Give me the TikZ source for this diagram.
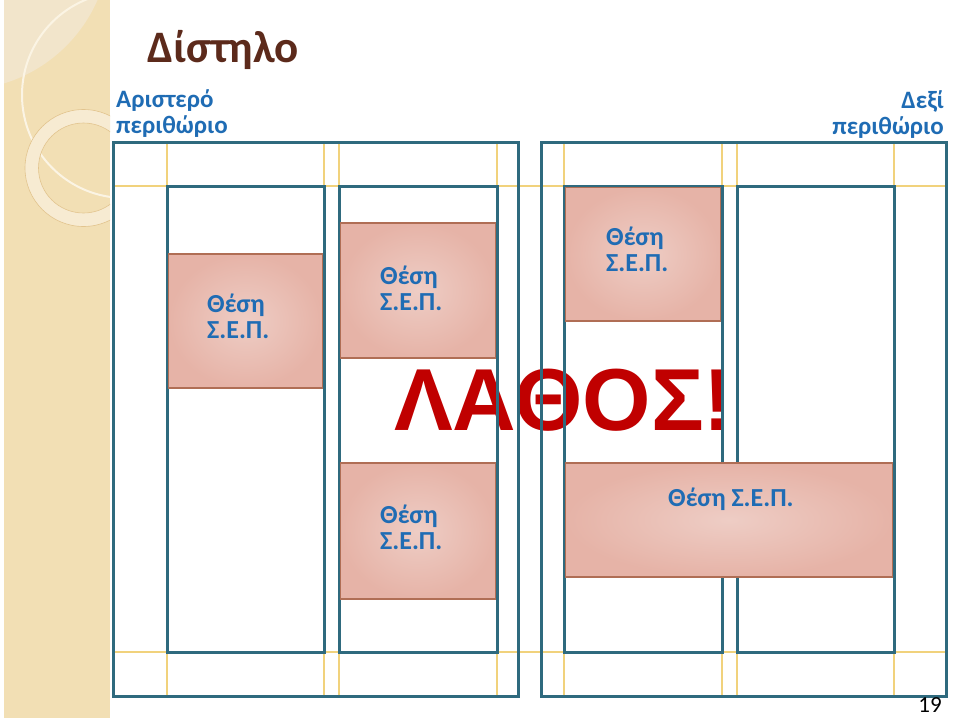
\documentclass[tikz,border=0pt]{standalone}
\usepackage{fontspec}
\setmainfont{Carlito}
\newfontfamily\alertfont{Liberation Sans}
\usetikzlibrary{fit,positioning}
\definecolor{dsband}{HTML}{F2DFB4}
\definecolor{dsbandlight}{HTML}{F2E5CB}
\definecolor{dsring}{HTML}{F7EBD2}
\definecolor{dsringline}{HTML}{E2C48E}
\definecolor{dsarc}{HTML}{FBF4E4}
\definecolor{dsteal}{HTML}{2F6A7E}
\definecolor{dsgold}{HTML}{F1D27C}
\definecolor{dspinkin}{HTML}{EECDC5}
\definecolor{dspinkout}{HTML}{E6B3A7}
\definecolor{dsedge}{HTML}{B06E55}
\definecolor{dsblue}{HTML}{1F6CB4}
\definecolor{dsbrown}{HTML}{5C2A1B}
\definecolor{dsred}{HTML}{C00000}

\begin{document}
\begin{tikzpicture}[
    x=1pt, y=-1pt,
    frame/.style={
        draw=dsteal,
        line width=3pt
    },
    guide/.style={
        draw=dsgold,
        line width=1.4pt
    },
    sepbox/.style={
        rectangle,
        inner sep=0pt,
        draw=dsedge,
        line width=1.1pt,
        inner color=dspinkin,
        outer color=dspinkout
    },
    septext/.style={
        align=left,
        inner sep=0pt,
        font=\bfseries\fontsize{26}{26}\selectfont,
        text=dsblue
    },
    marginlabel/.style={
        inner sep=0pt,
        font=\bfseries\fontsize{25}{25.5}\selectfont,
        text=dsblue
    }
]

\fill[white] (0,0) rectangle (959,718);
\useasboundingbox (0,0) rectangle (959,718);

\begin{scope}
    \clip (4,0) rectangle (110,718);
    \fill[dsband] (4,0) rectangle (110,718);
    \fill[dsbandlight] (-40,-60) circle (150pt);
    \draw[dsarc, line width=2pt] (125,95) circle (103pt);
    \fill[dsring, even odd rule] (83.5,168) circle (58.5pt) (83.5,168) circle (45pt);
    \draw[dsringline, line width=0.6pt] (83.5,168) circle (58.5pt) (83.5,168) circle (45pt);
\end{scope}

\node[anchor=base west, inner sep=0pt, text=dsbrown,
      font=\bfseries\fontsize{45}{50}\selectfont] (title) at (147,62) {Δίστηλο};

\node[marginlabel, align=left, anchor=base west] (lmargin) at (116,133) {Αριστερό\\περιθώριο};
\node[marginlabel, align=right, anchor=base east] (rmargin) at (944,134) {Δεξί\\περιθώριο};

\node[anchor=base west, inner sep=0pt, text=dsred,
      font=\alertfont\bfseries\fontsize{88}{95}\selectfont] (wrong) at (394,430) {ΛΑΘΟΣ!};

\draw[guide] (113,186) -- (946,186);
\draw[guide] (113,652) -- (946,652);
\foreach \gx in {167,324,339,497,564,722,737,894}
    \draw[guide] (\gx,142) -- (\gx,696);

\foreach \xa/\ya/\xb/\yb in {113/142/518/696,167/186/324/652,339/186/497/652,
                             541/142/946/696,564/186/722/652,737/186/894/652}
    \draw[frame] (\xa,\ya) rectangle (\xb,\yb);

\node[sepbox, fit={(168.5,254) (322.5,388)}] (boxa) {};
\node[sepbox, fit={(340.5,223) (495.5,358)}] (boxb) {};
\node[sepbox, fit={(565.5,187.5) (720.5,321)}] (boxc) {};
\node[sepbox, fit={(340.5,463) (495.5,599)}] (boxd) {};
\node[sepbox, fit={(565.5,463) (892.5,577)}] (boxe) {};

\node[septext, anchor=base west] (texta) at (207,338) {Θέση\\Σ.Ε.Π.};
\node[septext, anchor=base west] (textb) at (380,310) {Θέση\\Σ.Ε.Π.};
\node[septext, anchor=base west] (textc) at (606,271) {Θέση\\Σ.Ε.Π.};
\node[septext, anchor=base west] (textd) at (380,549) {Θέση\\Σ.Ε.Π.};
\node[septext, anchor=base west] (texte) at (668,506) {Θέση Σ.Ε.Π.};

\node[anchor=base east, inner sep=0pt, font=\fontsize{23}{25}\selectfont] (pagenum) at (942,712) {19};

\end{tikzpicture}
\end{document}
